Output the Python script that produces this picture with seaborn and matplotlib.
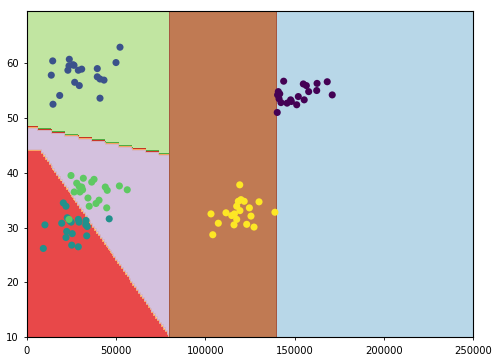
import numpy as np
import pandas as pd
import matplotlib
matplotlib.use('Agg')
import matplotlib.pyplot as plt
import seaborn as sns

# income / score points for each of the five clusters
x_purple = [143800, 140800, 141600, 141200, 142300, 140200, 154800, 156500, 157800, 162500,
            162300, 168200, 171000, 152000, 155300, 147700, 145700, 151100, 148100, 140400]
y_purple = [56.7, 54.8, 54.4, 53.5, 52.8, 51.0, 56.2, 55.9, 54.8, 56.3,
            55.0, 56.6, 54.2, 53.9, 53.3, 53.3, 52.7, 52.4, 53.0, 54.2]

x_blue = [14450, 23750, 52140, 49900, 13660, 26770, 29340, 18370, 14620, 40940,
          39420, 39420, 40940, 43180, 23580, 25820, 22960, 26380, 28790, 30690]
y_blue = [60.4, 60.7, 62.9, 60.1, 57.8, 56.5, 55.9, 54.1, 52.5, 53.6,
          59.0, 57.5, 57.1, 56.9, 59.5, 59.7, 58.7, 59.6, 58.7, 58.9]

x_teal = [20400, 21900, 10100, 19500, 24100, 28800, 29200, 33100, 33800, 22300,
          25400, 21900, 33500, 46100, 25100, 28800, 9200, 22600, 33000, 24800]
y_teal = [34.5, 33.9, 30.5, 30.8, 31.2, 31.5, 31.0, 31.3, 30.2, 29.3,
          28.9, 28.2, 28.5, 31.6, 26.8, 26.5, 26.2, 31.8, 30.5, 31.0]

x_green = [24700, 31600, 36300, 37600, 27900, 29300, 31200, 26500, 29700, 43900,
           45000, 51800, 56200, 34200, 34900, 38700, 40400, 44700, 23600, 30700]
y_green = [39.5, 39.0, 38.3, 38.8, 38.1, 37.5, 36.9, 36.5, 36.5, 37.4,
           36.8, 37.6, 36.9, 35.4, 33.9, 34.4, 35.0, 33.6, 31.5, 37.4]

x_yellow = [119200, 119900, 118400, 121700, 130000, 117500, 124600, 119300, 103100, 111500,
            114700, 117500, 125500, 138900, 107200, 116000, 123100, 127200, 104100, 116200]
y_yellow = [37.8, 35.1, 34.8, 34.8, 34.7, 33.9, 33.6, 33.1, 32.5, 32.7,
            32.2, 31.5, 32.1, 32.8, 30.8, 30.5, 30.6, 30.1, 28.7, 32.5]

# decision rule parameters
split_low = 80000
split_high = 140000
upper_line = (48.4, 43.1)       # y at x=0 and x=split_low
diag_line = (47.85, 10.3)       # y at x=0 and x=split_low
red_top = 44.2


def classify(xv, yv):
    z = np.full(xv.shape, 3)
    upper = upper_line[0] + (upper_line[1] - upper_line[0]) * xv / split_low
    diag = diag_line[0] + (diag_line[1] - diag_line[0]) * xv / split_low
    z[yv > upper] = 1
    z[(yv < diag) & (yv < red_top)] = 2
    z[xv >= split_low] = 4
    z[xv >= split_high] = 0
    return z


df = pd.DataFrame({
    'x': x_purple + x_blue + x_teal + x_green + x_yellow,
    'y': y_purple + y_blue + y_teal + y_green + y_yellow,
    'label': [0] * len(x_purple) + [1] * len(x_blue) + [2] * len(x_teal)
             + [3] * len(x_green) + [4] * len(x_yellow),
})

xx, yy = np.meshgrid(np.arange(0, 250001, 100), np.arange(10, 70, 0.5))
Z = classify(xx, yy)

fig = plt.figure(figsize=(4.99, 3.61), dpi=100)
ax = fig.add_axes([0.0539, 0.0657, 0.8946, 0.9038])
ax.contourf(xx, yy, Z, cmap=plt.cm.Paired, alpha=0.8)
sns.scatterplot(data=df, x='x', y='y', hue='label', palette='viridis', hue_norm=(0, 4),
                s=26, linewidth=0, legend=False, ax=ax)

ax.set_xlim(0, 250000)
ax.set_ylim(10, 69.5)
ax.set_xticks(np.arange(0, 250001, 50000))
ax.set_yticks(np.arange(10, 61, 10))
ax.set_xlabel('')
ax.set_ylabel('')
ax.tick_params(labelsize=7.2, length=2.5, width=0.6)
for s in ax.spines.values():
    s.set_linewidth(0.8)

fig.savefig('out.png', dpi=100)
